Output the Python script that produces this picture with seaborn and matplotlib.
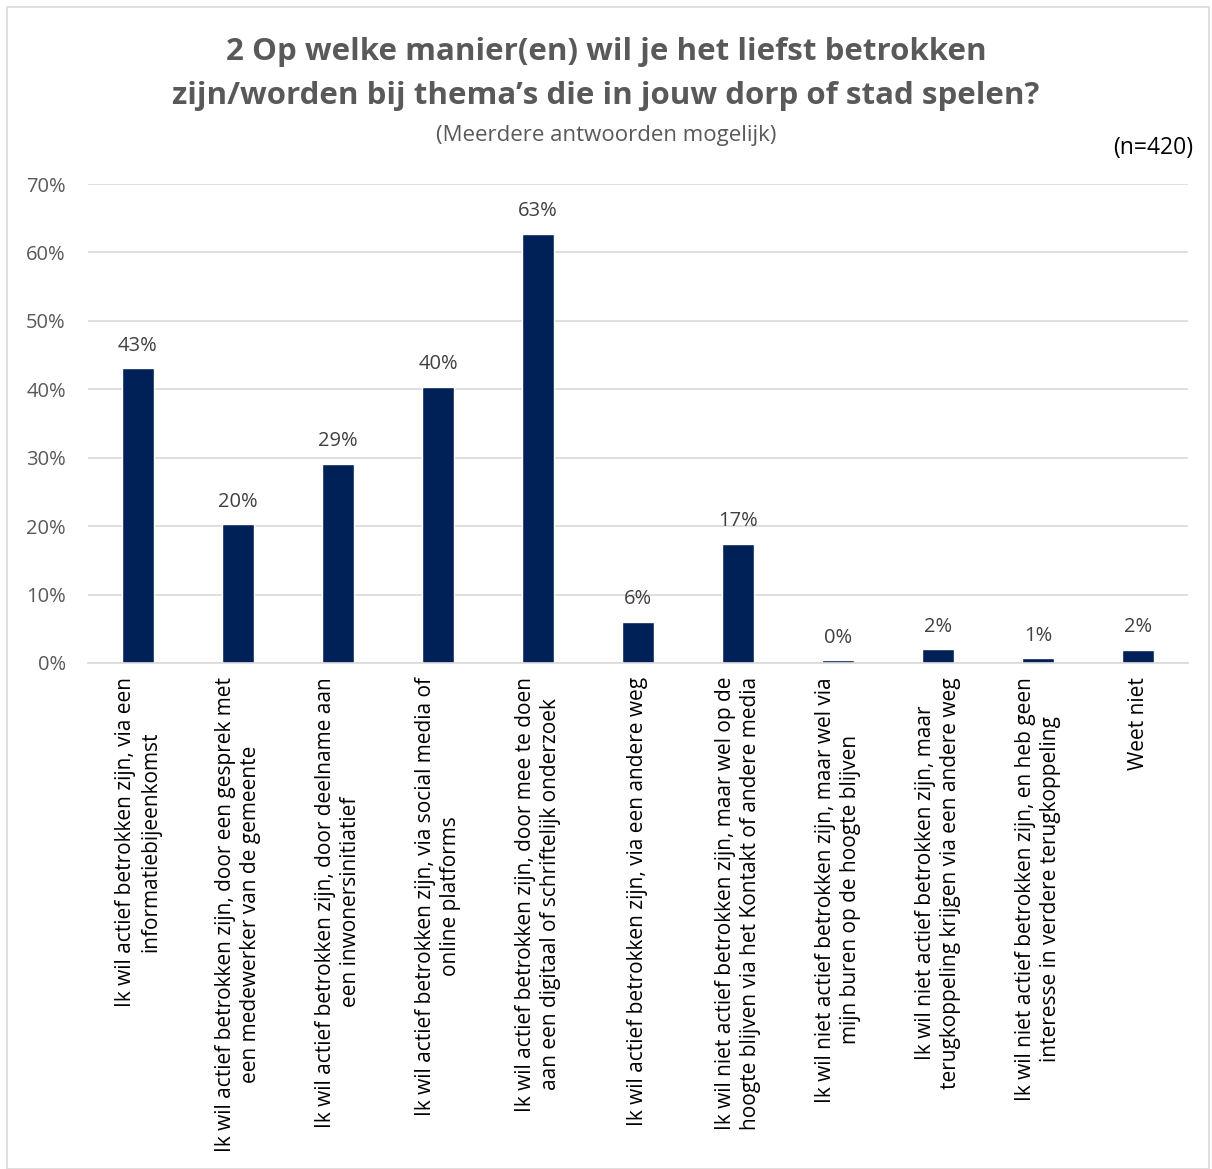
import matplotlib
matplotlib.use("Agg")
import matplotlib.pyplot as plt
import seaborn as sns
import pandas as pd
from matplotlib.patches import Rectangle

categories = [
    "Ik wil actief betrokken zijn, via een\ninformatiebijeenkomst",
    "Ik wil actief betrokken zijn, door een gesprek met\neen medewerker van de gemeente",
    "Ik wil actief betrokken zijn, door deelname aan\neen inwonersinitiatief",
    "Ik wil actief betrokken zijn, via social media of\nonline platforms",
    "Ik wil actief betrokken zijn, door mee te doen\naan een digitaal of schriftelijk onderzoek",
    "Ik wil actief betrokken zijn, via een andere weg",
    "Ik wil niet actief betrokken zijn, maar wel op de\nhoogte blijven via het Kontakt of andere media",
    "Ik wil niet actief betrokken zijn, maar wel via\nmijn buren op de hoogte blijven",
    "Ik wil niet actief betrokken zijn, maar\nterugkoppeling krijgen via een andere weg",
    "Ik wil niet actief betrokken zijn, en heb geen\ninteresse in verdere terugkoppeling",
    "Weet niet",
]
values = [43.1, 20.3, 29.1, 40.4, 62.7, 6.0, 17.4, 0.4, 2.0, 0.7, 1.9]
value_labels = ["43%", "20%", "29%", "40%", "63%", "6%", "17%", "0%", "2%", "1%", "2%"]
yticks = [0, 10, 20, 30, 40, 50, 60, 70]

title = "2 Op welke manier(en) wil je het liefst betrokken\nzijn/worden bij thema\u2019s die in jouw dorp of stad spelen?"
subtitle = "(Meerdere antwoorden mogelijk)"
n_text = "(n=420)"

sns.set_theme(style="white")
plt.rcParams['font.family'] = ['Open Sans', 'DejaVu Sans']

df = pd.DataFrame({"cat": categories, "val": values})

fig = plt.figure(figsize=(12.12, 11.69), dpi=100)
ax = fig.add_axes([88/1212, 1 - 663/1169, (1188-88)/1212, (663-184)/1169])

sns.barplot(data=df, x="cat", y="val", color="#002157", width=0.32, ax=ax, saturation=1)

ax.set_ylim(0, 70)
ax.set_xlim(-0.5, len(categories) - 0.5)
ax.set_yticks(yticks)
ax.set_yticklabels([f"{t}%" for t in yticks], fontsize=14.5, color="#595959")
ax.yaxis.grid(True, color="#d9d9d9", linewidth=1.2)
ax.set_axisbelow(True)
for s in ["top", "right", "left"]:
    ax.spines[s].set_visible(False)
ax.spines["bottom"].set_color("#d9d9d9")
ax.spines["bottom"].set_linewidth(1.2)
ax.tick_params(axis="y", length=0, pad=16)
ax.tick_params(axis="x", length=0, pad=10)
ax.set_xticks(range(len(categories)))
ax.set_xticklabels(categories, rotation=90, fontsize=15, color="#000000",
                   ha="center", va="top", multialignment="center", linespacing=1.3)
ax.set_xlabel("")
ax.set_ylabel("")

for i, (v, lab) in enumerate(zip(values, value_labels)):
    ax.annotate(lab, (i, v), xytext=(0, 9), textcoords="offset points",
                ha="center", va="bottom", fontsize=14.5, color="#404040")

fig.text(0.5, 1 - 74/1169, title, ha="center", va="center", fontsize=22.5,
         fontweight="bold", color="#595959", linespacing=1.62)
fig.text(0.5, 1 - 135/1169, subtitle, ha="center", va="center", fontsize=16, color="#595959")
fig.text(1193/1212, 1 - 148/1169, n_text, ha="right", va="center", fontsize=16.5, color="#000000")

fig.patches.append(Rectangle((7/1212, 0), 1202/1212, 1 - 7/1169, transform=fig.transFigure,
                             fill=False, edgecolor="#d9d9d9", linewidth=1.2))

fig.savefig("out.png", dpi=100)
